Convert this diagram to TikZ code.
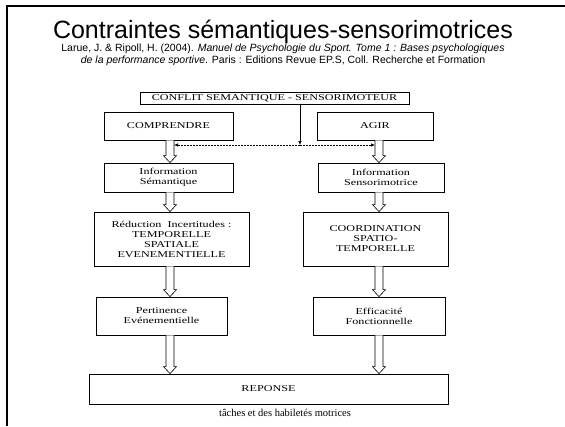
\documentclass[tikz,border=0pt]{standalone}
\usepackage{fontspec}
\setmainfont{Liberation Serif}
\newfontfamily\titlefont{Liberation Sans}
\newfontfamily\boxfont{Liberation Serif}[FakeStretch=1.35]
\usetikzlibrary{calc,arrows.meta}
\newcommand\hollowarrow[3]{%
  \draw[hollow] let \p1=(#2.south -| #1), \p2=(#3.north -| #1) in
    (\x1-4pt,\y1) -- (\x1-4pt,\y2+7pt) -- (\x1-6.5pt,\y2+7pt) -- (\x1,\y2)
    -- (\x1+6.5pt,\y2+7pt) -- (\x1+4pt,\y2+7pt) -- (\x1+4pt,\y1);}
\begin{document}
\begin{tikzpicture}[x=1pt,y=-1pt,
  box/.style={draw,line width=0.8pt,inner sep=0pt,align=center,
    font=\boxfont\fontsize{9}{10}\selectfont},
  hollow/.style={draw,line width=0.6pt,fill=white},
  cite/.style={font=\titlefont\fontsize{10.5}{12}\selectfont,inner sep=0pt},
  tip/.style={-{Latex[length=4pt,width=3.5pt]},line width=0.6pt}]
\useasboundingbox (0,0) rectangle (565,426);
\fill[white] (0,0) rectangle (565,426);
\draw[line width=2pt] (7,426) -- (7,5.7) -- (565,5.7);

\node[font=\titlefont\fontsize{25}{28}\selectfont,inner sep=0pt,anchor=base] (title) at (283,38) {Contraintes sémantiques-sensorimotrices};
\node[cite,anchor=base] (cite1) at (283,51) {Larue, J. \& Ripoll, H. (2004). \textit{Manuel de Psychologie du Sport. Tome 1 : Bases psychologiques}};
\node[cite,anchor=base] (cite2) at (283,63) {\textit{de la performance sportive}. Paris : Editions Revue EP.S, Coll. Recherche et Formation};

\node[box,minimum width=269,minimum height=12] (conflit) at (274.5,98) {CONFLIT SEMANTIQUE - SENSORIMOTEUR};
\node[box,minimum width=129,minimum height=28] (compr) at (168.5,126) {COMPRENDRE};
\node[box,minimum width=116,minimum height=28] (agir) at (375,126) {AGIR};
\node[box,minimum width=129,minimum height=29] (isem) at (168.5,177.5) {Information\\Sémantique};
\node[box,minimum width=126,minimum height=29] (isens) at (381,177.5) {Information\\Sensorimotrice};
\node[box,minimum width=155,minimum height=54] (red) at (171.5,239) {Réduction\ \ Incertitudes :\\TEMPORELLE\\SPATIALE\\EVENEMENTIELLE};
\node[box,minimum width=145,minimum height=54] (coord) at (375.5,239) {COORDINATION\\SPATIO-\\TEMPORELLE};
\node[box,minimum width=131,minimum height=38] (pert) at (161.5,316) {Pertinence\\Evénementielle};
\node[box,minimum width=132,minimum height=38] (eff) at (379,316) {Efficacité\\Fonctionnelle};
\node[box,minimum width=359,minimum height=30] (rep) at (268.5,389) {REPONSE};
\node[font=\fontsize{10.5}{12}\selectfont,inner sep=0pt] (note) at (285,413) {tâches et des habiletés motrices};

\coordinate (L) at (170,0);
\coordinate (R) at (379,0);
\hollowarrow{L}{compr}{isem}
\hollowarrow{R}{agir}{isens}
\hollowarrow{L}{isem}{red}
\hollowarrow{R}{isens}{coord}
\hollowarrow{L}{red}{pert}
\hollowarrow{R}{coord}{eff}
\hollowarrow{L}{pert}{rep}
\hollowarrow{R}{eff}{rep}

\coordinate (J) at (300,145);
\coordinate (dl) at (174,145);
\coordinate (dr) at (375,145);
\draw[tip] (conflit.south -| J) -- (J);
\draw[tip,dash pattern=on 2pt off 1pt] (J) -- (dl);
\draw[tip,dash pattern=on 2pt off 1pt] (J) -- (dr);
\end{tikzpicture}
\end{document}
